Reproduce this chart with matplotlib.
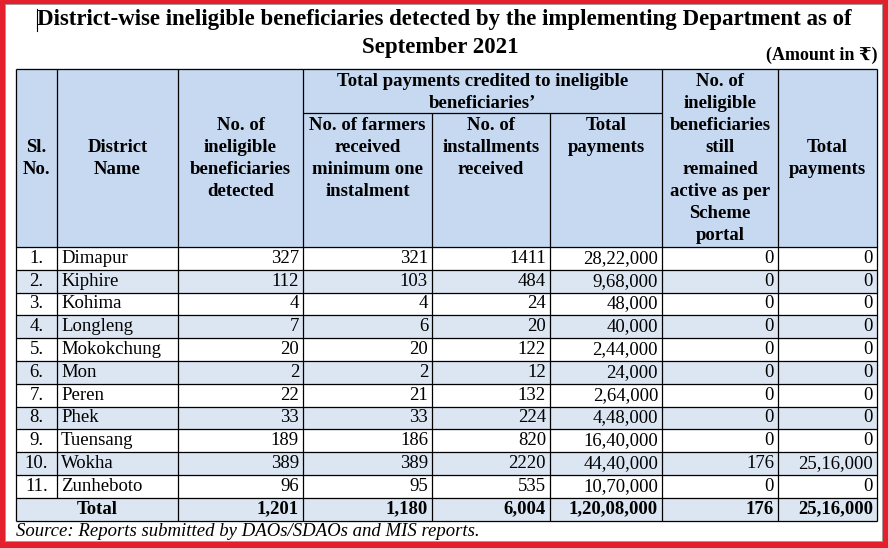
import matplotlib.pyplot as plt
from matplotlib.patches import Rectangle

# ---- data ----
sl_no = ['1.', '2.', '3.', '4.', '5.', '6.', '7.', '8.', '9.', '10.', '11.']
districts = ['Dimapur', 'Kiphire', 'Kohima', 'Longleng', 'Mokokchung', 'Mon',
             'Peren', 'Phek', 'Tuensang', 'Wokha', 'Zunheboto']
detected = [327, 112, 4, 7, 20, 2, 22, 33, 189, 389, 96]
farmers = [321, 103, 4, 6, 20, 2, 21, 33, 186, 389, 95]
installments = [1411, 484, 24, 20, 122, 12, 132, 224, 820, 2220, 535]
payments = [2822000, 968000, 48000, 40000, 244000, 24000, 264000, 448000,
            1640000, 4440000, 1070000]
still_active = [0, 0, 0, 0, 0, 0, 0, 0, 0, 176, 0]
active_payments = [0, 0, 0, 0, 0, 0, 0, 0, 0, 2516000, 0]

title_lines = ['District-wise ineligible beneficiaries detected by the implementing Department as of',
               'September 2021']
unit_note = '(Amount in ₹)'
source_note = 'Source: Reports submitted by DAOs/SDAOs and MIS reports.'


def indian(n):
    s = str(n)
    if len(s) <= 3:
        return s
    head, tail = s[:-3], s[-3:]
    groups = []
    while len(head) > 2:
        groups.insert(0, head[-2:])
        head = head[:-2]
    if head:
        groups.insert(0, head)
    return ','.join(groups) + ',' + tail


SERIF = ['Liberation Serif', 'DejaVu Serif', 'DejaVu Sans']
plt.rcParams['font.family'] = SERIF

# ---- layout (pixels) ----
col_x = [16, 57, 178, 303, 432, 550, 662, 778, 877]
head_top, sub_line, head_bot = 69, 113, 247
row_h = 22.8
n_rows = len(districts)
HEAD_BLUE = '#c6d9f0'
ROW_BLUE = '#dce6f2'
LW = 0.9
FS = 13.5

fig = plt.figure(figsize=(8.88, 5.48), dpi=100)
ax = fig.add_axes([0, 0, 1, 1])
ax.set_xlim(0, 888)
ax.set_ylim(548, 0)
ax.axis('off')

# red frame
ax.add_patch(Rectangle((0, 0), 888, 548, color='#e3202b', zorder=0))
ax.add_patch(Rectangle((5, 4), 877, 537, facecolor='white',
                       edgecolor='#9a9a9a', lw=0.6, zorder=0.5))

# title
ax.text(444, 20, title_lines[0], ha='center', va='center', fontsize=16.5,
        fontweight='bold')
ax.text(440, 48, title_lines[1], ha='center', va='center', fontsize=16.5,
        fontweight='bold')
ax.plot([37, 37], [9, 31], color='black', lw=0.8)
ax.text(877, 55, unit_note, ha='right', va='center', fontsize=13,
        fontweight='bold')

# header fill
ax.add_patch(Rectangle((col_x[0], head_top), col_x[-1] - col_x[0],
                       head_bot - head_top, color=HEAD_BLUE, zorder=1))
# row fills
total_top = head_bot + n_rows * row_h
total_bot = total_top + row_h
for i in range(n_rows + 1):
    if i % 2 == 1:
        y0 = head_bot + i * row_h
        ax.add_patch(Rectangle((col_x[0], y0), col_x[-1] - col_x[0], row_h,
                               color=ROW_BLUE, zorder=1))

# grid lines
kw = dict(color='black', lw=LW, zorder=3, solid_capstyle='butt')
for y in [head_top, head_bot] + [head_bot + i * row_h for i in range(1, n_rows + 2)]:
    ax.plot([col_x[0], col_x[-1]], [y, y], **kw)
ax.plot([col_x[3], col_x[6]], [sub_line, sub_line], **kw)
for j, x in enumerate(col_x):
    if j in (4, 5):
        ax.plot([x, x], [sub_line, total_bot], **kw)
    elif j == 1:
        ax.plot([x, x], [head_top, total_top], **kw)
    else:
        ax.plot([x, x], [head_top, total_bot], **kw)


def lines(cx, ys, txts):
    for y, t in zip(ys, txts):
        ax.text(cx, y, t, ha='center', va='center', fontsize=FS,
                fontweight='bold', zorder=4)


def mid(j):
    return (col_x[j] + col_x[j + 1]) / 2


lines(mid(0), [148, 170], ['Sl.', 'No.'])
lines(mid(1), [148, 170], ['District', 'Name'])
lines(mid(2), [125, 148, 170, 192], ['No. of', 'ineligible', 'beneficiaries', 'detected'])
lines((col_x[3] + col_x[6]) / 2, [82, 103],
      ['Total payments credited to ineligible', 'beneficiaries\u2019'])
lines(mid(3), [126, 148, 170, 192], ['No. of farmers', 'received', 'minimum one', 'instalment'])
lines(mid(4), [126, 148, 170], ['No. of', 'installments', 'received'])
lines(mid(5), [126, 148], ['Total', 'payments'])
lines(mid(6), [82, 103, 126, 148, 170, 192, 213, 235],
      ['No. of', 'ineligible', 'beneficiaries', 'still', 'remained',
       'active as per', 'Scheme', 'portal'])
lines(mid(7), [148, 170], ['Total', 'payments'])

# body
for i in range(n_rows):
    yc = head_bot + (i + 0.5) * row_h
    ax.text(mid(0), yc, sl_no[i], ha='center', va='center', fontsize=FS, zorder=4)
    ax.text(col_x[1] + 4, yc, districts[i], ha='left', va='center', fontsize=FS, zorder=4)
    vals = [str(detected[i]), str(farmers[i]), str(installments[i]),
            indian(payments[i]), str(still_active[i]), indian(active_payments[i])]
    for j, v in enumerate(vals):
        ax.text(col_x[j + 3] - 4, yc, v, ha='right', va='center',
                fontsize=FS, zorder=4)

# totals
yc = total_top + row_h / 2
ax.text((col_x[0] + col_x[2]) / 2, yc, 'Total', ha='center', va='center',
        fontsize=FS, fontweight='bold', zorder=4)
tots = [indian(sum(detected)), indian(sum(farmers)), indian(sum(installments)),
        indian(sum(payments)), indian(sum(still_active)), indian(sum(active_payments))]
for j, v in enumerate(tots):
    ax.text(col_x[j + 3] - 4, yc, v, ha='right', va='center', fontsize=FS,
            fontweight='bold', zorder=4)

ax.text(col_x[0], 532, source_note, ha='left', va='center', fontsize=13.5,
        style='italic')

fig.savefig('out.png', dpi=100)
